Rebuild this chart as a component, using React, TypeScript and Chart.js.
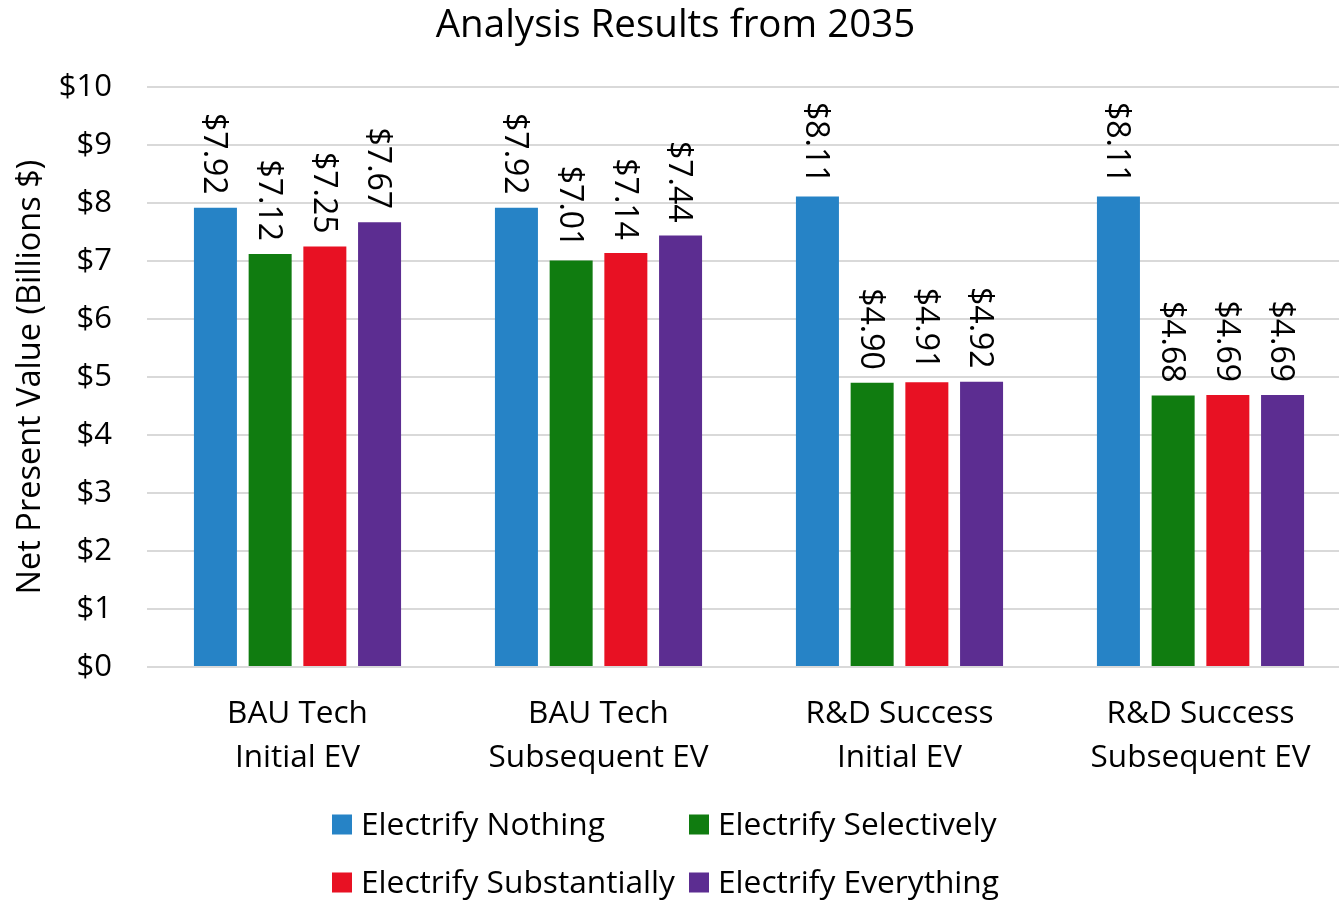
import React, { useEffect, useRef } from "react";
import { Chart, registerables } from "chart.js";

Chart.register(...registerables);

const categories: string[][] = [
  ["BAU Tech", "Initial EV"],
  ["BAU Tech", "Subsequent EV"],
  ["R&D Success", "Initial EV"],
  ["R&D Success", "Subsequent EV"],
];

const seriesNames = [
  "Electrify Nothing",
  "Electrify Selectively",
  "Electrify Substantially",
  "Electrify Everything",
];

const electrifyNothing = [7.92, 7.92, 8.11, 8.11];
const electrifySelectively = [7.12, 7.01, 4.9, 4.68];
const electrifySubstantially = [7.25, 7.14, 4.91, 4.69];
const electrifyEverything = [7.67, 7.44, 4.92, 4.69];

const seriesColors = ["#2683C6", "#107C10", "#E81123", "#5C2D91"];

const yTicksMin = 0;
const yTicksMax = 10;
const yTickStep = 1;

const FONT = "'Open Sans', 'Noto Sans', sans-serif";

const labelPlugin = {
  id: "barLabels",
  afterDatasetsDraw(chart: any) {
    const ctx = chart.ctx;
    ctx.save();
    ctx.font = `32px ${FONT}`;
    ctx.fillStyle = "#000";
    ctx.textAlign = "right";
    ctx.textBaseline = "middle";
    chart.data.datasets.forEach((ds: any, di: number) => {
      const meta = chart.getDatasetMeta(di);
      meta.data.forEach((bar: any, i: number) => {
        const v = ds.data[i] as number;
        ctx.save();
        ctx.translate(bar.x - 2, bar.y - 13);
        ctx.rotate(Math.PI / 2);
        ctx.fillText("$" + v.toFixed(2), 0, 0);
        ctx.restore();
      });
    });
    ctx.restore();
  },
};

const legendPlugin = {
  id: "gridLegend",
  afterDraw(chart: any) {
    const ctx = chart.ctx;
    ctx.save();
    ctx.font = `31.7px ${FONT}`;
    ctx.textAlign = "left";
    ctx.textBaseline = "middle";
    const colX = [332, 689];
    const rowY = [824.5, 882.5];
    chart.data.datasets.forEach((ds: any, di: number) => {
      const col = di % 2;
      const row = Math.floor(di / 2);
      const x = colX[col];
      const y = rowY[row];
      ctx.fillStyle = ds.backgroundColor;
      ctx.fillRect(x, y - 10, 20, 20);
      ctx.fillStyle = "#000";
      ctx.fillText(ds.label, x + 29, y + 1);
    });
    ctx.restore();
  },
};

export default function App() {
  const canvasRef = useRef<HTMLCanvasElement | null>(null);

  useEffect(() => {
    if (!canvasRef.current) return;
    const seriesValues = [
      electrifyNothing,
      electrifySelectively,
      electrifySubstantially,
      electrifyEverything,
    ];
    const chart = new Chart(canvasRef.current, {
      type: "bar",
      data: {
        labels: categories,
        datasets: seriesNames.map((name, i) => ({
          label: name,
          data: seriesValues[i],
          backgroundColor: seriesColors[i],
          borderWidth: 0,
          categoryPercentage: 0.727,
          barPercentage: 0.786,
        })),
      },
      options: {
        animation: false,
        responsive: false,
        maintainAspectRatio: false,
        layout: { padding: { left: 0, right: 0, top: 0, bottom: 123 } },
        plugins: {
          legend: { display: false },
          tooltip: { enabled: false },
          title: {
            display: true,
            text: "Analysis Results from 2035",
            color: "#000",
            font: { family: FONT, size: 38.5, weight: "normal", lineHeight: 1.2 },
            padding: { top: 3, bottom: 37.8 },
          },
        },
        scales: {
          x: {
            grid: { display: false, drawTicks: false },
            border: { display: false },
            ticks: {
              color: "#000",
              padding: 25,
              maxRotation: 0,
              autoSkip: false,
              font: { family: FONT, size: 31.5, lineHeight: 1.4 },
            },
            afterFit: (scale: any) => {
              scale.height = 110;
            },
          },
          y: {
            min: yTicksMin,
            max: yTicksMax,
            grid: { color: "#d9d9d9", lineWidth: 2, drawTicks: false },
            border: { display: false },
            ticks: {
              stepSize: yTickStep,
              color: "#000",
              padding: 35,
              font: { family: FONT, size: 31 },
              callback: (v: any) => "$" + v,
            },
            title: {
              display: true,
              text: "Net Present Value (Billions $)",
              color: "#000",
              font: { family: FONT, size: 32.5, lineHeight: 1.2 },
              padding: { top: 11, bottom: 0 },
            },
            afterFit: (scale: any) => {
              scale.width = 147;
            },
          },
        },
      },
      plugins: [labelPlugin, legendPlugin],
    });
    return () => chart.destroy();
  }, []);

  return (
    <div
      style={{
        position: "fixed",
        left: 0,
        top: 0,
        width: 1339,
        height: 900,
        overflow: "hidden",
        background: "#fff",
      }}
    >
      <canvas
        ref={canvasRef}
        width={1351}
        height={900}
        style={{ display: "block", width: 1351, height: 900 }}
      />
    </div>
  );
}
